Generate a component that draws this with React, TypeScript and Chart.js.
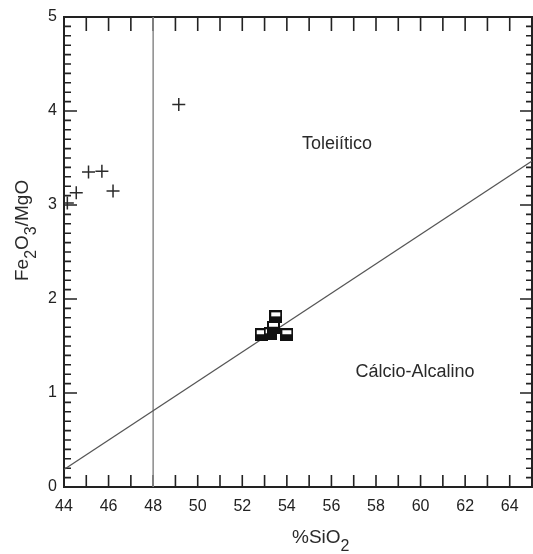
import { useEffect, useRef } from 'react';
import { Chart, registerables } from 'chart.js';

Chart.register(...registerables);

// ---- data ----
const xTickValues = [44, 46, 48, 50, 52, 54, 56, 58, 60, 62, 64];
const yTickValues = [0, 1, 2, 3, 4, 5];
const crossX = [44.15, 44.55, 45.1, 45.7, 46.2, 49.15];
const crossY = [3.02, 3.13, 3.35, 3.36, 3.15, 4.07];
const squareX = [52.85, 53.25, 53.4, 53.5, 54.0];
const squareY = [1.62, 1.63, 1.7, 1.81, 1.62];
const dividerX = [48, 48];
const dividerY = [0, 5];
const boundaryX = [44, 65];
const boundaryY = [0.1875, 3.46875];
const regionLabels = ['Toleiítico', 'Cálcio-Alcalino'];
const regionLabelX = [56.25, 59.75];
const regionLabelY = [3.6, 1.17];

const FONT = '"Liberation Sans", Arial, Helvetica, sans-serif';

function makeSquare(): HTMLCanvasElement {
  const c = document.createElement('canvas');
  c.width = 13;
  c.height = 13;
  const g = c.getContext('2d')!;
  g.fillStyle = '#111';
  g.fillRect(0, 0, 13, 13);
  g.fillStyle = '#fff';
  g.fillRect(2, 2, 9, 4);
  return c;
}

const framePlugin = {
  id: 'frame',
  beforeDatasetsDraw(chart: any) {
    const { ctx, chartArea: a, scales } = chart;
    const xs = scales.x;
    const ys = scales.y;
    ctx.save();
    ctx.strokeStyle = '#222';
    ctx.lineWidth = 1.6;
    for (let v = Math.ceil(xs.min); v <= xs.max; v++) {
      const px = xs.getPixelForValue(v);
      ctx.beginPath();
      ctx.moveTo(px, a.bottom);
      ctx.lineTo(px, a.bottom - 12);
      ctx.moveTo(px, a.top);
      ctx.lineTo(px, a.top + 14);
      ctx.stroke();
    }
    for (let i = 0; i <= 50; i++) {
      const v = i / 10;
      const py = ys.getPixelForValue(v);
      const major = i % 10 === 0;
      ctx.beginPath();
      ctx.moveTo(a.left, py);
      ctx.lineTo(a.left + (major ? 13 : 7), py);
      ctx.moveTo(a.right, py);
      ctx.lineTo(a.right - (major ? 12 : 6), py);
      ctx.stroke();
    }
    ctx.lineWidth = 2;
    ctx.strokeRect(a.left, a.top, a.right - a.left, a.bottom - a.top);
    ctx.restore();
  },
  afterDraw(chart: any) {
    const { ctx, scales } = chart;
    ctx.save();
    ctx.fillStyle = '#2a2a2a';
    ctx.textBaseline = 'alphabetic';
    ctx.font = `18px ${FONT}`;
    ctx.textAlign = 'center';
    regionLabels.forEach((t, i) => {
      ctx.fillText(t, scales.x.getPixelForValue(regionLabelX[i]), scales.y.getPixelForValue(regionLabelY[i]));
    });
    ctx.textAlign = 'left';
    const big = `19px ${FONT}`;
    const small = `16px ${FONT}`;
    let x = 292;
    const base = 543;
    ctx.font = big;
    ctx.fillText('%SiO', x, base);
    x += ctx.measureText('%SiO').width;
    ctx.font = small;
    ctx.fillText('2', x, base + 8);
    ctx.translate(28, 281);
    ctx.rotate(-Math.PI / 2);
    const parts: [string, boolean][] = [
      ['Fe', false],
      ['2', true],
      ['O', false],
      ['3', true],
      ['/MgO', false],
    ];
    let px = 0;
    parts.forEach(([t, sub]) => {
      ctx.font = sub ? small : big;
      ctx.fillText(t, px, sub ? 8 : 0);
      px += ctx.measureText(t).width;
    });
    ctx.restore();
  },
};

export default function App() {
  const ref = useRef<HTMLCanvasElement>(null);
  useEffect(() => {
    const canvas = ref.current!;
    const square = makeSquare();
    const chart = new Chart(canvas, {
      type: 'scatter',
      data: {
        datasets: [
          {
            data: squareX.map((x, i) => ({ x, y: squareY[i] })),
            pointStyle: square as any,
            pointRadius: 6.5,
          },
          {
            data: crossX.map((x, i) => ({ x, y: crossY[i] })),
            pointStyle: 'cross',
            pointRadius: 6.5,
            borderColor: '#2a2a2a',
            borderWidth: 1.5,
          },
          {
            data: boundaryX.map((x, i) => ({ x, y: boundaryY[i] })),
            showLine: true,
            pointRadius: 0,
            borderColor: '#555',
            borderWidth: 1.2,
          },
          {
            data: dividerX.map((x, i) => ({ x, y: dividerY[i] })),
            showLine: true,
            pointRadius: 0,
            borderColor: '#8a8a8a',
            borderWidth: 1.5,
          },
        ],
      },
      options: {
        animation: false,
        responsive: false,
        devicePixelRatio: 1,
        layout: { padding: { top: 17, right: 3.5, left: 0, bottom: 0 } },
        plugins: { legend: { display: false }, tooltip: { enabled: false } },
        scales: {
          x: {
            type: 'linear',
            min: 44,
            max: 65,
            grid: { display: false, drawTicks: false },
            border: { display: false },
            afterBuildTicks: (s: any) => {
              s.ticks = xTickValues.map((value) => ({ value }));
            },
            afterFit: (s: any) => {
              s.height = 67;
            },
            ticks: {
              font: { family: FONT, size: 16 },
              color: '#222',
              padding: 10,
              maxRotation: 0,
            },
          },
          y: {
            type: 'linear',
            min: 0,
            max: 5,
            grid: { display: false, drawTicks: false },
            border: { display: false },
            afterBuildTicks: (s: any) => {
              s.ticks = yTickValues.map((value) => ({ value }));
            },
            afterFit: (s: any) => {
              s.width = 64;
            },
            ticks: {
              font: { family: FONT, size: 16 },
              color: '#222',
              padding: 7,
            },
          },
        },
      },
      plugins: [framePlugin],
    });
    return () => chart.destroy();
  }, []);
  return (
    <div
      style={{
        position: 'absolute',
        left: 0,
        top: 0,
        width: 533,
        height: 554,
        overflow: 'hidden',
        background: '#fff',
      }}
    >
      <canvas ref={ref} width={540} height={554} style={{ display: 'block' }} />
    </div>
  );
}
